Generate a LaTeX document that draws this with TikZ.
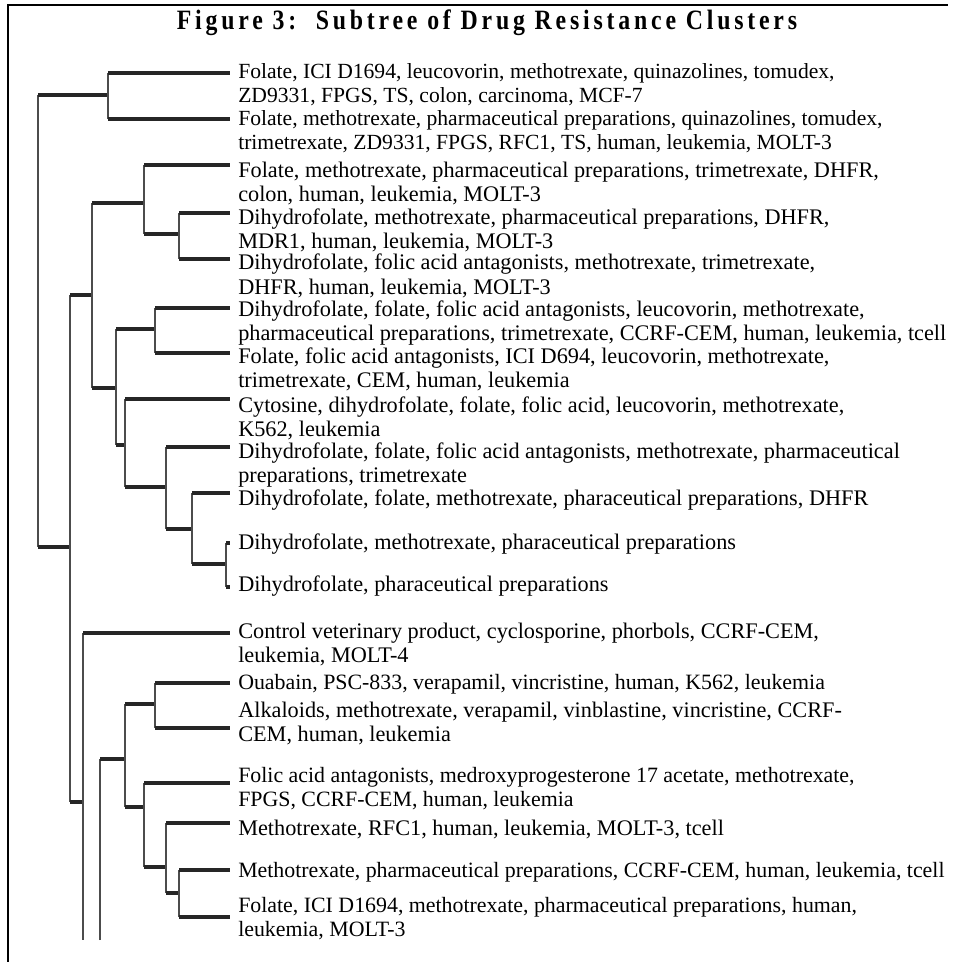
\documentclass[tikz,border=0pt]{standalone}
\usepackage{fontspec}
\setmainfont{Liberation Serif}
\newfontfamily\titlefont[LetterSpace=16]{Liberation Serif}
\usetikzlibrary{calc}

\tikzset{
  leaf/.style={anchor=base west, inner sep=0pt, align=left, font=\fontsize{16.7}{18}\selectfont},
  narrow/.style={font=\fontsize{16.4}{18}\selectfont},
  heading/.style={anchor=base, inner sep=0pt, font=\titlefont\fontsize{21}{24}\bfseries},
  hline/.style={line width=2.3pt, black!85},
  vline/.style={line width=0.9pt, black!70},
}

\begin{document}
\begin{tikzpicture}[x=0.75pt,y=-0.75pt]
\useasboundingbox (0,0) rectangle (952,962);
\draw[line width=1.6pt] (8,962) -- (8,5) -- (948,5);
\node[heading] (title) at (487,30) {\scalebox{0.85}[1]{Figure 3:\ \ Subtree of Drug Resistance Clusters}};

% inner nodes of the tree
\coordinate (R) at (38,321);
\coordinate (A) at (108,95);
\coordinate (B) at (70,547);
\coordinate (C) at (92,295);
\coordinate (E) at (144,203);
\coordinate (G) at (179,234);
\coordinate (F) at (116,388);
\coordinate (H) at (155,329);
\coordinate (I) at (125,445);
\coordinate (J) at (166,487);
\coordinate (K) at (192,529);
\coordinate (L) at (226,564);
\coordinate (D) at (83,802);
\coordinate (Dcut) at (83,940);
\coordinate (Mcut) at (100,940);
\coordinate (N) at (125,759);
\coordinate (O) at (155,704);
\coordinate (P) at (144,807);
\coordinate (Q) at (166,867);
\coordinate (S) at (179,893);

% leaf tips
\foreach \n/\y in {1/73,2/119,3/165,4/213,5/259,6/308,7/353,8/399,9/447,10/493,
                   11/543,12/587,13/633,14/683,15/728,16/783,17/823,18/870,19/917}
  \coordinate (t\n) at (230,\y);

% labels (two-line labels sit on the baseline of their last line)
\node[leaf, font=\fontsize{16.2}{18}\selectfont] (l1) at (238,103) {Folate, ICI D1694, leucovorin, methotrexate, quinazolines, tomudex,\\ZD9331, FPGS, TS, colon, carcinoma, MCF-7};
\node[leaf, font=\fontsize{16.2}{18}\selectfont] (l2) at (238,150) {Folate, methotrexate, pharmaceutical preparations, quinazolines, tomudex,\\trimetrexate, ZD9331, FPGS, RFC1, TS, human, leukemia, MOLT-3};
\node[leaf] (l3) at (238,202) {Folate, methotrexate, pharmaceutical preparations, trimetrexate, DHFR,\\colon, human, leukemia, MOLT-3};
\node[leaf] (l4) at (238,249) {Dihydrofolate, methotrexate, pharmaceutical preparations, DHFR,\\MDR1, human, leukemia, MOLT-3};
\node[leaf] (l5) at (238,294) {Dihydrofolate, folic acid antagonists, methotrexate, trimetrexate,\\DHFR, human, leukemia, MOLT-3};
\node[leaf] (l6) at (238,340) {Dihydrofolate, folate, folic acid antagonists, leucovorin, methotrexate,\\pharmaceutical preparations, trimetrexate, CCRF-CEM, human, leukemia, tcell};
\node[leaf] (l7) at (238,387) {Folate, folic acid antagonists, ICI D694, leucovorin, methotrexate,\\trimetrexate, CEM, human, leukemia};
\node[leaf] (l8) at (238,436) {Cytosine, dihydrofolate, folate, folic acid, leucovorin, methotrexate,\\K562, leukemia};
\node[leaf] (l9) at (238,482) {Dihydrofolate, folate, folic acid antagonists, methotrexate, pharmaceutical\\preparations, trimetrexate};
\node[leaf] (l10) at (238,505) {Dihydrofolate, folate, methotrexate, pharaceutical preparations, DHFR};
\node[leaf] (l11) at (238,549) {Dihydrofolate, methotrexate, pharaceutical preparations};
\node[leaf] (l12) at (238,591) {Dihydrofolate, pharaceutical preparations};
\node[leaf] (l13) at (238,662) {Control veterinary product, cyclosporine, phorbols, CCRF-CEM,\\leukemia, MOLT-4};
\node[leaf, narrow] (l14) at (238,689) {Ouabain, PSC-833, verapamil, vincristine, human, K562, leukemia};
\node[leaf] (l15) at (238,741) {Alkaloids, methotrexate, verapamil, vinblastine, vincristine, CCRF-\\CEM, human, leukemia};
\node[leaf, narrow] (l16) at (238,806) {Folic acid antagonists, medroxyprogesterone 17 acetate, methotrexate,\\FPGS, CCRF-CEM, human, leukemia};
\node[leaf] (l17) at (238,835) {Methotrexate, RFC1, human, leukemia, MOLT-3, tcell};
\node[leaf, narrow] (l18) at (238,877) {Methotrexate, pharmaceutical preparations, CCRF-CEM, human, leukemia, tcell};
\node[leaf, narrow] (l19) at (238,936) {Folate, ICI D1694, methotrexate, pharmaceutical preparations, human,\\leukemia, MOLT-3};

% branches: vertical from the parent, then across to the child
\foreach \p/\c in {R/A,R/B,A/t1,A/t2,B/C,B/D,C/E,C/F,E/t3,E/G,G/t4,G/t5,
                   F/H,F/I,H/t6,H/t7,I/t8,I/J,J/t9,J/K,K/t10,K/L,L/t11,L/t12,
                   D/t13,Mcut/N,N/O,N/P,O/t14,O/t15,P/t16,P/Q,Q/t17,Q/S,S/t18,S/t19}{
  \draw[vline] (\p) -- (\p |- \c);
  \draw[hline] (\p |- \c) -- (\c);
}
\draw[vline] (D) -- (Dcut);

\end{tikzpicture}
\end{document}
